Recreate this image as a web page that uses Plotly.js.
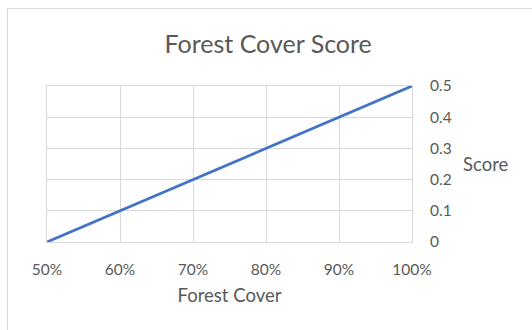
<!DOCTYPE html>
<html>
<head>
<meta charset="utf-8">
<script src="https://cdn.plot.ly/plotly-3.0.1.min.js"></script>
<style>
body{margin:0;padding:0;background:#fff;}
#frame{position:absolute;left:7px;top:8px;width:530px;height:330px;border-left:1px solid #d9d9d9;border-top:1px solid #d9d9d9;}
#chart{position:absolute;left:0;top:0;width:532px;height:330px;}
</style>
</head>
<body>
<div id="frame"></div>
<div id="chart"></div>
<script>
const forestCover = [0.5, 0.6, 0.7, 0.8, 0.9, 1.0];
const score = [0, 0.1, 0.2, 0.3, 0.4, 0.5];
const xTicks = [0.5, 0.6, 0.7, 0.8, 0.9, 1.0];
const yTicks = [0, 0.1, 0.2, 0.3, 0.4, 0.5];

const font = "Lato, 'Open Sans', sans-serif";
const grey = "#595959";

Plotly.newPlot('chart', [{
  x: forestCover, y: score, type: 'scatter', mode: 'lines',
  line: {color: '#4472c4', width: 2.75}, hoverinfo: 'none'
}], {
  width: 532, height: 330,
  margin: {l: 47, r: 120, t: 86, b: 88},
  paper_bgcolor: 'rgba(0,0,0,0)', plot_bgcolor: 'rgba(0,0,0,0)',
  showlegend: false,
  title: {text: 'Forest Cover Score', font: {family: font, size: 25, color: grey}, x: 0.504, xanchor: 'center', y: 0.865, yanchor: 'middle'},
  xaxis: {
    range: [0.5, 1.0], tickvals: xTicks, tickformat: '.0%',
    showgrid: true, gridcolor: '#d9d9d9', gridwidth: 1, zeroline: false,
    showline: true, linecolor: '#d9d9d9', mirror: true,
    ticks: 'outside', ticklen: 13, tickcolor: 'rgba(0,0,0,0)',
    tickfont: {family: font, size: 15.5, color: grey},
    title: {text: 'Forest Cover', font: {family: font, size: 18.5, color: grey}, standoff: 12}
  },
  yaxis: {
    range: [0, 0.5], tickvals: yTicks, side: 'right',
    showgrid: true, gridcolor: '#d9d9d9', gridwidth: 1, zeroline: false,
    showline: true, linecolor: '#d9d9d9', mirror: true,
    ticks: 'outside', ticklen: 14, tickcolor: 'rgba(0,0,0,0)',
    tickfont: {family: font, size: 15.5, color: grey}
  },
  annotations: [{
    text: 'Score', xref: 'paper', yref: 'paper', x: 1.201, y: 0.5,
    xanchor: 'center', yanchor: 'middle', showarrow: false,
    font: {family: font, size: 18.5, color: grey}
  }]
}, {staticPlot: true});
</script>
</body>
</html>
